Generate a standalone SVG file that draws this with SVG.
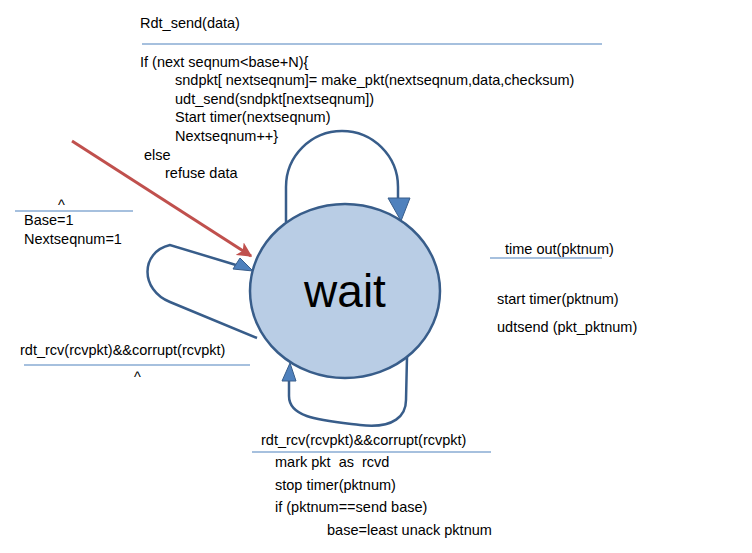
<svg xmlns="http://www.w3.org/2000/svg" width="752" height="553" viewBox="0 0 752 553">
<style>
text{font-family:"Liberation Sans",Arial,sans-serif;font-size:14.5px;fill:#000;white-space:pre}
.rule{stroke:#4F81BD;stroke-width:1.2;fill:none}
.edge{stroke:#385D8A;stroke-width:2.5;fill:none}
.head{fill:#4F81BD;stroke:#385D8A;stroke-width:1}
</style>
<defs>
<marker id="redArrow" viewBox="0 0 10 10" refX="9" refY="5" markerWidth="5" markerHeight="5" orient="auto" markerUnits="strokeWidth">
<path d="M0,0 L10,5 L0,10 L2.5,5 Z" fill="#C0504D"/>
</marker>
</defs>
<rect width="752" height="553" fill="#fff"/>
<g id="connectors">
<path class="edge" d="M286,222 L286,187 A56,56 0 0 1 398,187 L398,198"/>
<polygon class="head" points="388,198 410,198 401,221"/>
<path class="edge" d="M257,338 L170,302 C140,290 140,252 170,245 L236,265"/>
<polygon class="head" points="233,269 240,258 253,271"/>
<path class="edge" d="M289,381 L289,396 C289,418 320,420 360,425 C395,429 406,415 406,400 L407,357"/>
<polygon class="head" points="282,381 296,381 290,363"/>
<line x1="72" y1="141" x2="251" y2="256" stroke="#C0504D" stroke-width="3" marker-end="url(#redArrow)"/>
</g>
<g id="wait">
<ellipse cx="345" cy="291" rx="95" ry="87" fill="#B9CDE5" stroke="#385D8A" stroke-width="2.5"/>
<text x="345" y="307" text-anchor="middle" style="font-size:46px">wait</text>
</g>
<g id="label-send">
<text x="140" y="28">Rdt_send(data)</text>
<line class="rule" x1="142" y1="44" x2="602" y2="44"/>
<text x="140" y="67">If (next seqnum&lt;base+N){</text>
<text x="175" y="85">sndpkt[ nextseqnum]= make_pkt(nextseqnum,data,checksum)</text>
<text x="175" y="104">udt_send(sndpkt[nextseqnum])</text>
<text x="175" y="122">Start timer(nextseqnum)</text>
<text x="175" y="141">Nextseqnum++}</text>
<text x="144" y="160">else</text>
<text x="165" y="178">refuse data</text>
</g>
<g id="label-init">
<text x="58" y="210">^</text>
<line class="rule" x1="15" y1="211" x2="133" y2="211"/>
<text x="24" y="225">Base=1</text>
<text x="24" y="244">Nextseqnum=1</text>
</g>
<g id="label-left">
<text x="20" y="355">rdt_rcv(rcvpkt)&amp;&amp;corrupt(rcvpkt)</text>
<line class="rule" x1="24" y1="365" x2="250" y2="365"/>
<text x="134" y="382">^</text>
</g>
<g id="label-timeout">
<text x="505" y="254">time out(pktnum)</text>
<line class="rule" x1="490" y1="258" x2="602" y2="258"/>
<text x="497" y="304">start timer(pktnum)</text>
<text x="497" y="332">udtsend (pkt_pktnum)</text>
</g>
<g id="label-bottom">
<text x="261" y="445">rdt_rcv(rcvpkt)&amp;&amp;corrupt(rcvpkt)</text>
<line class="rule" x1="252" y1="452" x2="491" y2="452"/>
<text x="275" y="467">mark pkt  as  rcvd</text>
<text x="275" y="490">stop timer(pktnum)</text>
<text x="275" y="512">if (pktnum==send base)</text>
<text x="327" y="535">base=least unack pktnum</text>
</g>
</svg>
